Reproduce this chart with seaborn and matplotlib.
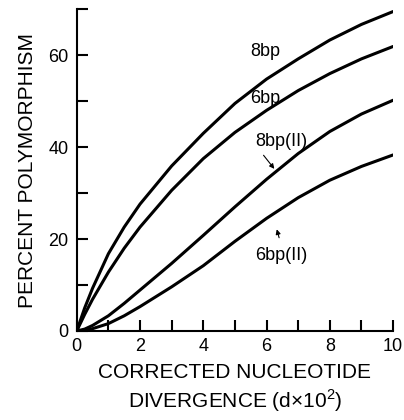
import matplotlib
matplotlib.use('Agg')
import matplotlib.pyplot as plt
import pandas as pd
import seaborn as sns

# values
divergence = [0, 0.25, 0.5, 1, 1.5, 2, 3, 4, 5, 6, 7, 8, 9, 10]
poly_8bp = [0, 5.0, 9.3, 16.8, 22.6, 27.6, 35.9, 43.0, 49.5, 54.8, 59.2, 63.3, 66.7, 69.5]
poly_6bp = [0, 3.6, 6.9, 12.8, 18.0, 22.6, 30.6, 37.5, 43.2, 48.0, 52.3, 56.0, 59.2, 61.9]
poly_8bp_ii = [0, 0.4, 1.2, 3.3, 6.0, 8.9, 14.7, 20.8, 27.0, 33.0, 38.6, 43.4, 47.2, 50.2]
poly_6bp_ii = [0, 0.1, 0.5, 1.6, 3.3, 5.3, 9.6, 14.2, 19.5, 24.5, 29.0, 32.8, 35.8, 38.3]

series = {"8bp": poly_8bp, "6bp": poly_6bp,
          "8bp(II)": poly_8bp_ii, "6bp(II)": poly_6bp_ii}

rows = []
for name, vals in series.items():
    for d, p in zip(divergence, vals):
        rows.append({"d": d, "poly": p, "site": name})
df = pd.DataFrame(rows)

sns.set_style("ticks")
plt.rcParams['font.family'] = ['Liberation Sans', 'DejaVu Sans']
plt.rcParams['mathtext.fontset'] = 'custom'
plt.rcParams['mathtext.rm'] = 'Liberation Sans'
plt.rcParams['text.color'] = 'black'
plt.rcParams['axes.labelcolor'] = 'black'

fig = plt.figure(figsize=(4.04, 4.2), dpi=100)
ax = fig.add_axes([0.19, 0.212, 0.783, 0.766])

sns.lineplot(data=df, x="d", y="poly", hue="site",
             palette={k: "black" for k in series}, legend=False,
             linewidth=2.2, ax=ax)

ax.set_xlim(0, 10)
ax.set_ylim(0, 70)
ax.set_xticks(range(0, 11, 2))
ax.set_xticks(range(0, 11), minor=True)
ax.set_yticks(range(0, 61, 20))
ax.set_yticks(range(0, 71, 10), minor=True)
ax.tick_params(which='both', direction='in', length=8, width=1.5,
               labelsize=13, colors='black')
ax.tick_params(axis='x', pad=5)
ax.tick_params(axis='y', pad=6)
for s in ['top', 'right']:
    ax.spines[s].set_visible(False)
for s in ['left', 'bottom']:
    ax.spines[s].set_linewidth(1.5)
    ax.spines[s].set_color('black')

ax.set_xlabel("CORRECTED NUCLEOTIDE\nDIVERGENCE (d$\\times$10$^{2}$)",
              fontsize=15, linespacing=1.25, labelpad=6)
ax.set_ylabel("PERCENT POLYMORPHISM", fontsize=15, labelpad=8)

ax.text(5.95, 60.8, "8bp", fontsize=13, ha='center', va='center')
ax.text(5.95, 50.6, "6bp", fontsize=13, ha='center', va='center')
ax.text(6.46, 41.3, "8bp(II)", fontsize=13, ha='center', va='center')
ax.text(6.46, 16.5, "6bp(II)", fontsize=13, ha='center', va='center')
ax.annotate("", xy=(6.3, 34.8), xytext=(5.85, 38.7),
            arrowprops=dict(arrowstyle='-|>', color='black', lw=0.8,
                            mutation_scale=7))
ax.annotate("", xy=(6.3, 22.7), xytext=(6.42, 19.7),
            arrowprops=dict(arrowstyle='-|>', color='black', lw=0.8,
                            mutation_scale=7))

fig.savefig("out.png", dpi=100)
